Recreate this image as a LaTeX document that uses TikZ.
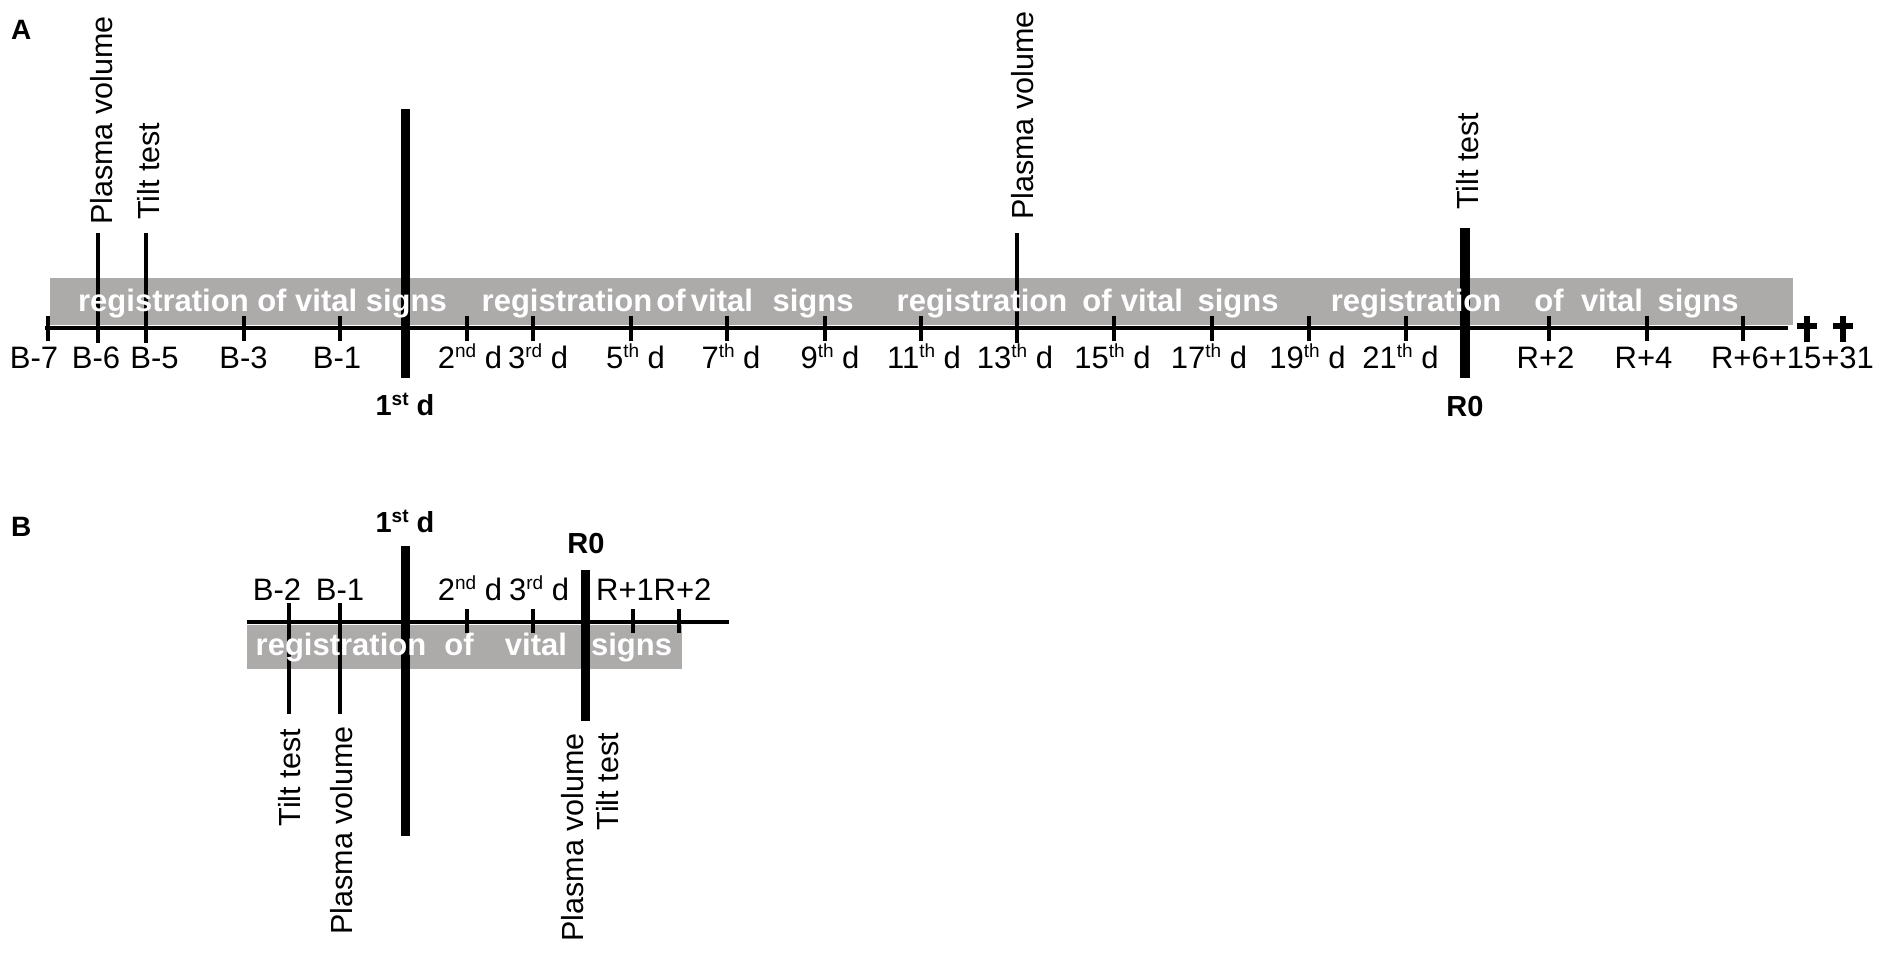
\documentclass[tikz,border=0pt]{standalone}
\usepackage{fontspec}
\setmainfont{Liberation Sans}
\definecolor{bandgray}{RGB}{173,170,170}
\newcommand\sups[1]{\raisebox{10.5pt}{\fontsize{19}{19}\selectfont #1}}
\newcommand\supb[1]{\raisebox{10pt}{\fontsize{19}{19}\selectfont\bfseries #1}}
\begin{document}
\begin{tikzpicture}[x=1pt,y=-1pt,
  lbl/.style={anchor=base,inner sep=0pt,font=\fontsize{31}{34}\selectfont},
  bld/.style={anchor=base,inner sep=0pt,font=\fontsize{29}{32}\selectfont\bfseries},
  panel/.style={anchor=base west,inner sep=0pt,font=\fontsize{28}{30}\selectfont\bfseries},
  reg/.style={anchor=base,inner sep=0pt,text=white,font=\fontsize{31}{34}\selectfont\bfseries},
  vlab/.style={rotate=90,inner sep=0pt,font=\fontsize{30.5}{34}\selectfont},
  axisln/.style={line width=4.5pt},
  tickln/.style={line width=4pt},
  heavyln/.style={line width=9pt},
  crossln/.style={line width=6pt},
  band/.style={fill=bandgray,draw=none}]
\useasboundingbox (0,0) rectangle (1884,956);
% ---------------- Panel A ----------------
\node[panel] (pA) at (11,39) {A};
\fill[band] (50,278) rectangle (1793,325);
\draw[axisln] (45,328) -- (1788,328);
\foreach \x in {48,244,340,467,533,631,727,825,921,1114,1212,1309,1406,1549,1647,1743}
  \draw[tickln] (\x,316) -- (\x,341);
\foreach \x in {98,146,1017}
  \draw[tickln] (\x,233) -- (\x,343);
\draw[heavyln] (405,109) -- (405,378);
\draw[line width=10pt] (1465,228) -- (1465,378);
% crosses
\foreach \x in {1807,1843}{
  \draw[crossln] (\x,316) -- (\x,342);
  \draw[crossln] (\x-10,326) -- (\x+10,326);
}
% band text A
\node[reg] (r1) at (262.5,311) {registration of vital signs};
\node[reg] (r2a) at (567,311) {registration};
\node[reg] (r2b) at (671,311) {of};
\node[reg] (r2c) at (722,311) {vital};
\node[reg] (r2d) at (813,311) {signs};
\node[reg] (r3a) at (982,311) {registration};
\node[reg] (r3b) at (1097,311) {of};
\node[reg] (r3c) at (1152,311) {vital};
\node[reg] (r3d) at (1238,311) {signs};
\node[reg] (r4a) at (1416,311) {registration};
\node[reg] (r4b) at (1549,311) {of};
\node[reg] (r4c) at (1612,311) {vital};
\node[reg] (r4d) at (1698,311) {signs};
% axis labels A
\foreach \x/\t [count=\i] in {34/B-7, 96/B-6, 154.5/B-5, 243.5/B-3, 337/B-1,
   470/2\sups{nd} d, 538/3\sups{rd} d, 635.5/5\sups{th} d, 731/7\sups{th} d,
   830/9\sups{th} d, 924/11\sups{th} d, 1015/13\sups{th} d, 1112.5/15\sups{th} d,
   1209/17\sups{th} d, 1307.5/19\sups{th} d, 1400.5/21\sups{th} d,
   1545.5/R+2, 1643.5/R+4, 1792.5/R+6+15+31}
  \node[lbl] (al\i) at (\x,368) {\t};
\node[bld] (a1st) at (405,415) {1\supb{st} d};
\node[bld] (aR0) at (1465,416) {R0};
% vertical labels A
\node[vlab,anchor=base west] (apv1) at (112,225) {Plasma volume};
\node[vlab,anchor=base west] (att1) at (159,220) {Tilt test};
\node[vlab,anchor=base west] (apv2) at (1033,220) {Plasma volume};
\node[vlab,anchor=base west] (att2) at (1478,210) {Tilt test};
% ---------------- Panel B ----------------
\node[panel] (pB) at (11,536) {B};
\fill[band] (247,625) rectangle (682,669);
\draw[axisln] (247,622) -- (729,622);
\foreach \x in {467,533,633,679}
  \draw[tickln] (\x,609) -- (\x,633);
\foreach \x in {289,340}
  \draw[tickln] (\x,603) -- (\x,714);
\draw[heavyln] (405,546) -- (405,836);
\draw[heavyln] (585.5,570) -- (585.5,721);
\node[reg] (b1) at (341,655) {registration};
\node[reg] (b2) at (459,655) {of};
\node[reg] (b3) at (536,655) {vital};
\node[reg] (b4) at (631.5,655) {signs};
\foreach \x/\t [count=\i] in {277/B-2, 340/B-1, 470/2\sups{nd} d, 539/3\sups{rd} d, 625/R+1, 682.5/R+2}
  \node[lbl] (bl\i) at (\x,600) {\t};
\node[bld] (b1st) at (405,532) {1\supb{st} d};
\node[bld] (bR0) at (586,553) {R0};
\node[vlab,anchor=base east] (btt1) at (300,729) {Tilt test};
\node[vlab,anchor=base east] (bpv1) at (352,726) {Plasma volume};
\node[vlab,anchor=base east] (bpv2) at (583,733) {Plasma volume};
\node[vlab,anchor=base east] (btt2) at (618,733) {Tilt test};
\end{tikzpicture}
\end{document}
